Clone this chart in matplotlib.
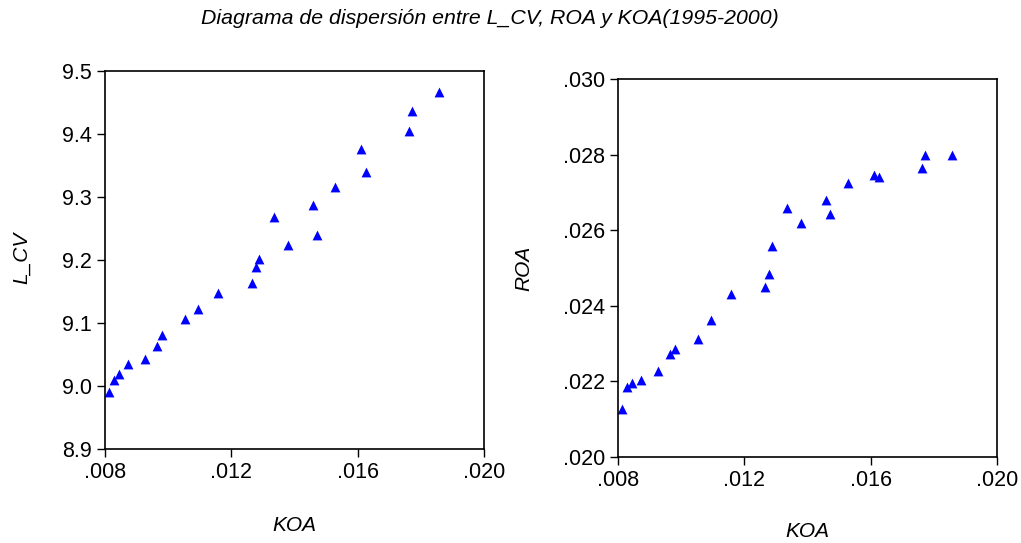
import matplotlib
matplotlib.use("Agg")
import matplotlib.pyplot as plt
from matplotlib.ticker import FuncFormatter

plt.rcParams['font.family'] = ['Liberation Sans', 'DejaVu Sans']

# datos
koa = [0.00814, 0.00827, 0.00843, 0.00873, 0.00926, 0.00965, 0.00979, 0.01052,
       0.01093, 0.01159, 0.01266, 0.01277, 0.01288, 0.01334, 0.01381, 0.01459,
       0.01470, 0.01529, 0.01610, 0.01627, 0.01762, 0.01773, 0.01856]
l_cv = [8.991, 9.009, 9.019, 9.035, 9.043, 9.064, 9.081, 9.107,
        9.122, 9.147, 9.163, 9.189, 9.202, 9.268, 9.224, 9.287,
        9.239, 9.316, 9.376, 9.339, 9.405, 9.437, 9.467]
roa = [0.02126, 0.02185, 0.02195, 0.02203, 0.02227, 0.02272, 0.02287, 0.02312,
       0.02362, 0.02430, 0.02451, 0.02483, 0.02558, 0.02658, 0.02618, 0.02679,
       0.02643, 0.02725, 0.02747, 0.02740, 0.02764, 0.02799, 0.02799]

x_ticks = [0.008, 0.012, 0.016, 0.020]
lcv_ticks = [8.9, 9.0, 9.1, 9.2, 9.3, 9.4, 9.5]
roa_ticks = [0.020, 0.022, 0.024, 0.026, 0.028, 0.030]

def sin_cero(v, pos):
    return f"{v:.3f}".lstrip("0")

W, H = 1021, 543
fig = plt.figure(figsize=(W / 100, H / 100), dpi=100)

ax1 = fig.add_axes([105 / W, 1 - 449 / H, 379 / W, 378 / H])
ax2 = fig.add_axes([618 / W, 1 - 457 / H, 379 / W, 378 / H])

ax1.scatter(koa, l_cv, marker="^", s=50, color="#0000ff", linewidths=0)
ax2.scatter(koa, roa, marker="^", s=50, color="#0000ff", linewidths=0)

ax1.set_xlim(0.008, 0.020)
ax1.set_ylim(8.9, 9.5)
ax1.set_yticks(lcv_ticks)
ax1.set_yticklabels([f"{v:.1f}" for v in lcv_ticks])
ax2.set_xlim(0.008, 0.020)
ax2.set_ylim(0.020, 0.030)
ax2.set_yticks(roa_ticks)
ax2.yaxis.set_major_formatter(FuncFormatter(sin_cero))

for ax in (ax1, ax2):
    ax.set_xticks(x_ticks)
    ax.xaxis.set_major_formatter(FuncFormatter(sin_cero))
    ax.tick_params(direction="out", length=6, width=1, labelsize=15.5, pad=3.5)
    for s in ax.spines.values():
        s.set_linewidth(1.2)

ax1.set_xlabel("KOA", fontsize=15, style="italic")
ax1.xaxis.set_label_coords(0.5, (449 - 516) / 378)
ax1.set_ylabel("L_CV", fontsize=15, style="italic")
ax1.yaxis.set_label_coords((31 - 105) / 379, (449 - 258) / 378)
ax2.set_xlabel("KOA", fontsize=15, style="italic")
ax2.xaxis.set_label_coords(0.5, (457 - 522) / 378)
ax2.set_ylabel("ROA", fontsize=15, style="italic")
ax2.yaxis.set_label_coords((533 - 618) / 379, 0.5)

fig.text(490 / W, 1 - 19 / H, "Diagrama de dispersión entre L_CV, ROA y KOA(1995-2000)",
         ha="center", va="center", fontsize=15.3, style="italic")

fig.savefig("out.png", dpi=100)
